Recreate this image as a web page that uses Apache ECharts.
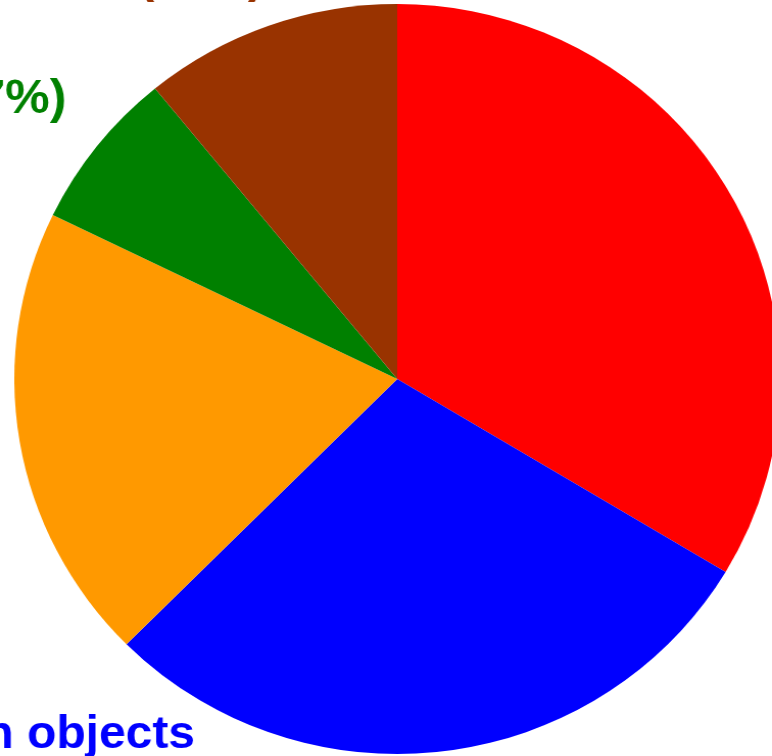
<!DOCTYPE html>
<html>
<head>
<meta charset="utf-8">
<script src="https://cdn.jsdelivr.net/npm/echarts@6/dist/echarts.min.js"></script>
<style>
  html, body { margin: 0; padding: 0; background: #ffffff; overflow: hidden; }
  #chart { width: 756px; height: 756px; transform: scaleX(1.02116); transform-origin: 0 0; }
</style>
</head>
<body>
<div id="chart"></div>
<script>
// ---- data ----
const categories = ['Asteroids', 'Unknown objects', 'Comets', 'Dust', 'Meteoroids'];
const values = [336, 289, 197, 69, 109];
const colors = ['#ff0000', '#0000ff', '#ff9900', '#008000', '#993300'];
const wrapLabel = [true, true, true, false, true];

// label anchor placement (outside the visible area where the reference crops them)
const labelPlacement = [
  { x: 770, y: 200, align: 'left', verticalAlign: 'middle' },
  { x: 191, y: 709, align: 'right', verticalAlign: 'top' },
  { x: -20, y: 460, align: 'right', verticalAlign: 'middle' },
  { x: 65, y: 99, align: 'right', verticalAlign: 'middle' },
  { x: 197, y: 5, align: 'center', verticalAlign: 'bottom' }
];

const chart = echarts.init(document.getElementById('chart'));
chart.setOption({
  animation: false,
  series: [{
    type: 'pie',
    center: [389, 379],
    radius: 375,
    startAngle: 90,
    clockwise: true,
    avoidLabelOverlap: false,
    itemStyle: { borderWidth: 0 },
    emphasis: { disabled: true },
    labelLine: { show: false },
    label: {
      show: true,
      position: 'outside',
      fontFamily: '"Liberation Sans", Arial, sans-serif',
      fontWeight: 'bold',
      fontSize: 47,
      lineHeight: 52,
      formatter: function (p) {
        return p.name + (wrapLabel[p.dataIndex] ? '\n' : ' ') + '(' + p.percent.toFixed(0) + '%)';
      }
    },
    labelLayout: function (p) {
      return labelPlacement[p.dataIndex];
    },
    data: categories.map(function (c, i) {
      return {
        name: c,
        value: values[i],
        itemStyle: { color: colors[i] },
        label: { color: colors[i], fontSize: i === 3 ? 49 : 47 }
      };
    })
  }]
});
</script>
</body>
</html>
